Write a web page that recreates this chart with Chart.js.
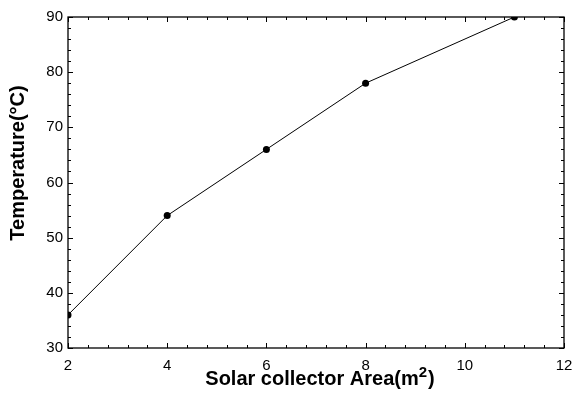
<!DOCTYPE html>
<html>
<head>
<meta charset="utf-8">
<script src="https://cdn.jsdelivr.net/npm/chart.js@4/dist/chart.umd.min.js"></script>
<style>
  html, body { margin: 0; padding: 0; background: #fff; }
  #wrap { width: 574px; height: 396px; }
</style>
</head>
<body>
<div id="wrap"><canvas id="tempChart" width="574" height="396"></canvas></div>
<script>
// solar collector area (m2) vs temperature (C)
const areas = [2, 4, 6, 8, 11];
const temps = [36, 54, 66, 78, 90];

const xTicks = [2, 4, 6, 8, 10, 12];
const yTicks = [30, 40, 50, 60, 70, 80, 90];

const FONT = "'Liberation Sans', Arial, Helvetica, sans-serif";

// frame, inward ticks on all four sides, and the axis titles
const frameAndTitles = {
  id: 'frameAndTitles',
  afterDraw(chart) {
    const { ctx, chartArea: { top, bottom, left, right }, scales: { x, y } } = chart;
    ctx.save();
    ctx.strokeStyle = '#000';
    ctx.lineWidth = 1.3;
    ctx.strokeRect(left, top, right - left, bottom - top);

    ctx.lineWidth = 1;
    ctx.beginPath();
    // x ticks, minor every 0.4
    for (let i = 0; i <= 25; i++) {
      const v = 2 + i * 0.4;
      const px = Math.round(x.getPixelForValue(v)) + 0.5;
      const len = i % 5 === 0 ? 5 : 3;
      ctx.moveTo(px, bottom); ctx.lineTo(px, bottom - len);
      ctx.moveTo(px, top); ctx.lineTo(px, top + len);
    }
    // y ticks, minor every 2
    for (let i = 0; i <= 30; i++) {
      const v = 30 + i * 2;
      const py = Math.round(y.getPixelForValue(v)) + 0.5;
      const len = i % 5 === 0 ? 5 : 3;
      ctx.moveTo(left, py); ctx.lineTo(left + len, py);
      ctx.moveTo(right, py); ctx.lineTo(right - len, py);
    }
    ctx.stroke();

    // x title with superscript
    ctx.fillStyle = '#000';
    ctx.textBaseline = 'alphabetic';
    ctx.textAlign = 'left';
    const main = 'Solar collector Area(m';
    const sup = '2';
    const close = ')';
    ctx.font = 'bold 20px ' + FONT;
    const wMain = ctx.measureText(main).width;
    const wClose = ctx.measureText(close).width;
    ctx.font = 'bold 15px ' + FONT;
    const wSup = ctx.measureText(sup).width;
    const total = wMain + wSup + 1 + wClose;
    let tx = (left + right) / 2 + 4 - total / 2;
    const base = 385;
    ctx.font = 'bold 20px ' + FONT;
    ctx.fillText(main, tx, base);
    tx += wMain;
    ctx.font = 'bold 15px ' + FONT;
    ctx.fillText(sup, tx, base - 8);
    tx += wSup + 1;
    ctx.font = 'bold 20px ' + FONT;
    ctx.fillText(close, tx, base);

    // y title
    ctx.translate(24, 163);
    ctx.rotate(-Math.PI / 2);
    ctx.textAlign = 'center';
    ctx.fillText('Temperature(°C)', 0, 0);
    ctx.restore();
  }
};

new Chart(document.getElementById('tempChart'), {
  type: 'line',
  data: {
    datasets: [{
      data: areas.map((a, i) => ({ x: a, y: temps[i] })),
      borderColor: '#000',
      backgroundColor: '#000',
      borderWidth: 1,
      pointRadius: 3.5,
      pointBackgroundColor: '#000',
      pointBorderWidth: 0,
      tension: 0,
      clip: 0
    }]
  },
  plugins: [frameAndTitles],
  options: {
    responsive: false,
    animation: false,
    events: [],
    layout: { padding: { top: 17, right: 0, left: 0, bottom: 0 } },
    plugins: { legend: { display: false }, tooltip: { enabled: false } },
    scales: {
      x: {
        type: 'linear',
        min: 2,
        max: 12,
        afterBuildTicks: s => { s.ticks = xTicks.map(v => ({ value: v })); },
        afterFit: s => { s.height = 48; s.paddingLeft = 0; s.paddingRight = 10; },
        grid: { display: false, drawTicks: false },
        border: { display: false },
        ticks: { color: '#000', font: { family: FONT, size: 15 }, padding: 9, maxRotation: 0 }
      },
      y: {
        min: 30,
        max: 90,
        afterBuildTicks: s => { s.ticks = yTicks.map(v => ({ value: v })); },
        afterFit: s => { s.width = 68; s.paddingTop = 0; s.paddingBottom = 0; },
        grid: { display: false, drawTicks: false },
        border: { display: false },
        ticks: { color: '#000', font: { family: FONT, size: 15 }, padding: 5 }
      }
    }
  }
});
</script>
</body>
</html>
